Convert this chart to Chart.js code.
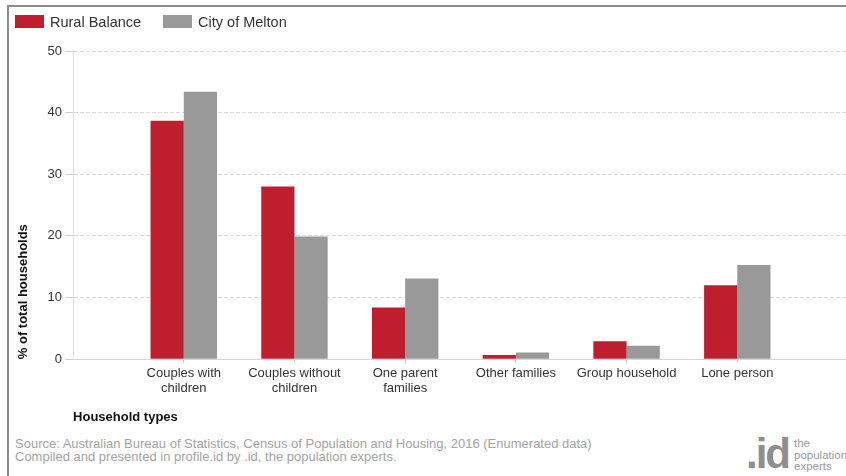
<!DOCTYPE html>
<html>
<head>
<meta charset="utf-8">
<title>Household types</title>
<script src="https://cdn.jsdelivr.net/npm/chart.js@4.4.0/dist/chart.umd.min.js"></script>
<style>
  html, body { margin: 0; padding: 0; background: #fff; }
  body { width: 846px; height: 476px; overflow: hidden; position: relative;
         font-family: "Liberation Sans", Arial, sans-serif; }
  #frame { position: absolute; left: 7px; top: 5px; right: -10px; bottom: -10px;
           border-left: 2px solid #8c8c8c; border-top: 2px solid #8c8c8c; pointer-events: none; }
  #wrap { position: absolute; left: 0; top: 0; width: 850px; height: 430px; }
  #legend { position: absolute; left: 15px; top: 14px; font-size: 14.5px; color: #333; white-space: nowrap; }
  #legend .item { display: inline-block; margin-right: 22px; }
  #legend .box { display: inline-block; width: 29px; height: 13px; vertical-align: -1px; margin-right: 6px; }
  #source { position: absolute; left: 15px; top: 437px; font-size: 13px; line-height: 13px; color: #a3a3a3; }
  #logo { position: absolute; left: 746px; top: 432px; color: #8e8e8e; white-space: nowrap; }
  #logo .mark { display: inline-block; font-weight: bold; font-size: 42px; letter-spacing: -2px; line-height: 44px; vertical-align: top; }
  #logo .words { display: inline-block; font-size: 11.5px; line-height: 11.5px; color: #9a9a9a; margin-left: 5px; margin-top: 6px; vertical-align: top; }
</style>
</head>
<body>
<div id="wrap"><canvas id="chart" width="850" height="430"></canvas></div>
<div id="legend"></div>
<div id="source">Source: Australian Bureau of Statistics, Census of Population and Housing, 2016 (Enumerated data)<br>Compiled and presented in profile.id by .id, the population experts.</div>
<div id="logo"><span class="mark">.id</span><span class="words">the<br>population<br>experts</span></div>
<div id="frame"></div>
<script>
// household types (blank slots either side keep the spacing of the original axis)
const CATEGORIES = [
  '',
  ['Couples with', 'children'],
  ['Couples without', 'children'],
  ['One parent', 'families'],
  'Other families',
  'Group household',
  'Lone person',
  '',
];

// % of total households
const RURAL_BALANCE  = [null, 38.7, 28.0, 8.4, 0.7, 2.9, 12.0, null];
const CITY_OF_MELTON = [null, 43.4, 19.9, 13.1, 1.1, 2.2, 15.3, null];

const Y_TICKS = [0, 10, 20, 30, 40, 50];

const SERIES = [
  { name: 'Rural Balance',  data: RURAL_BALANCE,  color: '#bf1e2e' },
  { name: 'City of Melton', data: CITY_OF_MELTON, color: '#999999' },
];

const FONT = '"Liberation Sans", Arial, sans-serif';

// legend
const legend = document.getElementById('legend');
SERIES.forEach(s => {
  const item = document.createElement('span');
  item.className = 'item';
  item.innerHTML = `<span class="box" style="background:${s.color}"></span>${s.name}`;
  legend.appendChild(item);
});

new Chart(document.getElementById('chart'), {
  type: 'bar',
  data: {
    labels: CATEGORIES,
    datasets: SERIES.map(s => ({
      label: s.name,
      data: s.data,
      backgroundColor: s.color,
      borderWidth: 0,
      categoryPercentage: 0.6,
      barPercentage: 1.0,
    })),
  },
  options: {
    responsive: false,
    animation: false,
    devicePixelRatio: 1,
    layout: { padding: { left: 16, top: 51, right: 1, bottom: 5 } },
    plugins: {
      legend: { display: false },
      tooltip: { enabled: false },
    },
    scales: {
      x: {
        type: 'category',
        offset: false,
        grid: {
          offset: false,
          drawOnChartArea: false,
          drawTicks: true,
          tickLength: 4,
          tickColor: (ctx) => (ctx.index > 0 && ctx.index < CATEGORIES.length - 1) ? '#cccccc' : 'rgba(0,0,0,0)',
        },
        border: { display: true, color: '#d6d6d6', width: 1 },
        ticks: {
          autoSkip: false,
          maxRotation: 0,
          minRotation: 0,
          padding: 2,
          color: '#333333',
          font: { family: FONT, size: 13 },
          lineHeight: 1.1,
        },
        title: {
          display: true,
          text: 'Household types',
          align: 'start',
          color: '#111111',
          font: { family: FONT, size: 13, weight: 'bold' },
          padding: { top: 11, bottom: 0 },
        },
      },
      y: {
        min: 0,
        max: 50,
        afterBuildTicks: (axis) => { axis.ticks = Y_TICKS.map(v => ({ value: v })); },
        grid: {
          color: '#d9d9d9',
          tickColor: '#cfcfcf',
          tickLength: 8,
          drawTicks: true,
        },
        border: { display: true, color: '#e0e0e0', width: 1, dash: [4, 2] },
        ticks: {
          padding: 3,
          color: '#333333',
          font: { family: FONT, size: 13 },
        },
        title: {
          display: true,
          text: '% of total households',
          align: 'start',
          color: '#111111',
          font: { family: FONT, size: 13, weight: 'bold' },
          padding: { top: 0, bottom: 13 },
        },
      },
    },
  },
});
</script>
</body>
</html>
